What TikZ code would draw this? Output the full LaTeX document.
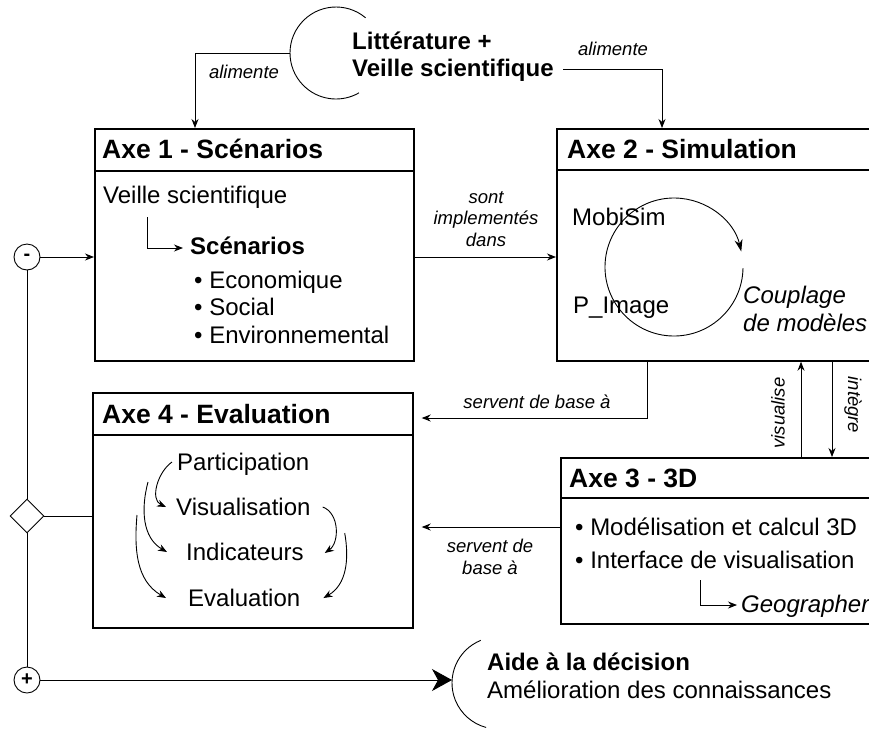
\documentclass[tikz,border=0pt]{standalone}
\usepackage{fontspec}
\setmainfont{Liberation Sans}
\usetikzlibrary{arrows.meta,shapes.geometric,calc}
\begin{document}
\begin{tikzpicture}[x=1pt,y=1pt,
  box/.style={draw,line width=1.7pt,anchor=north west,inner sep=0pt},
  hdr/.style={line width=1.7pt},
  conn/.style={line width=0.9pt},
  arr/.style={conn,-{Stealth[length=9pt,width=7pt]}},
  txt/.style={inner sep=0pt,anchor=base west,font=\fontsize{24}{27}\selectfont},
  btxt/.style={txt,font=\fontsize{24}{27}\selectfont\bfseries},
  itxt/.style={txt,font=\fontsize{24}{27}\selectfont\itshape},
  ttl/.style={inner sep=0pt,anchor=base west,font=\fontsize{26.5}{30}\selectfont\bfseries},
  lbl/.style={inner sep=0pt,font=\fontsize{18.5}{21.5}\selectfont\itshape,align=center},
  sign/.style={draw,circle,line width=0.9pt,minimum size=26pt,inner sep=0pt,font=\fontsize{20}{20}\selectfont\bfseries},
]
\useasboundingbox (0,0) rectangle (869,-729);
\clip (0,0) rectangle (869,-729);

% ---- boxes
\node[box,minimum width=319pt,minimum height=232pt] (ax1) at (94,-128) {};
\node[box,minimum width=340pt,minimum height=232pt] (ax2) at (556,-128) {};
\node[box,minimum width=340pt,minimum height=166pt] (ax3) at (560,-457) {};
\node[box,minimum width=320pt,minimum height=235pt] (ax4) at (92,-392) {};
\draw[hdr] ([yshift=-43pt]ax1.north west) -- ([yshift=-43pt]ax1.north east);
\draw[hdr] ([yshift=-42pt]ax2.north west) -- ([yshift=-42pt]ax2.north east);
\draw[hdr] ([yshift=-41pt]ax3.north west) -- ([yshift=-41pt]ax3.north east);
\draw[hdr] ([yshift=-43pt]ax4.north west) -- ([yshift=-43pt]ax4.north east);

\node[ttl] (t1) at (102,-158) {Axe 1 - Scénarios};
\node[ttl] (t2) at (567,-158) {Axe 2 - Simulation};
\node[ttl] (t3) at (569,-487) {Axe 3 - 3D};
\node[ttl] (t4) at (102,-423) {Axe 4 - Evaluation};

% ---- Axe 1 contents
\node[txt] (veille) at (103,-203) {Veille scientifique};
\node[btxt] (scen) at (190,-254) {Scénarios};
\node[txt] (eco) at (194,-288) {• Economique};
\node[txt] (soc) at (194,-315) {• Social};
\node[txt] (env) at (194,-343) {• Environnemental};
\draw[arr] ([xshift=44pt,yshift=-14pt]veille.base west) |- ([xshift=-7pt,yshift=6pt]scen.base west);

% ---- Axe 2 contents
\coordinate (cyc) at (674,-267);
\draw[conn,-{Stealth[length=12pt,width=8pt]}] ($(cyc)+(-1:69)$) arc[start angle=-1, end angle=-347, radius=69];
\node[txt] (mobi) at (572,-225) {MobiSim};
\node[txt] (pimg) at (573,-313) {P\_Image};
\node[itxt] (coup1) at (743,-303) {Couplage};
\node[itxt] (coup2) at (743,-331) {de modèles};

% ---- Axe 3 contents
\node[txt] (mod) at (575,-535) {• Modélisation et calcul 3D};
\node[txt] (intf) at (575,-568) {• Interface de visualisation};
\node[itxt] (geo) at (741,-612) {Geographer};
\draw[arr] ([xshift=125pt,yshift=-12pt]intf.base west) |- ([xshift=-4pt,yshift=7pt]geo.base west);

% ---- Axe 4 contents
\node[txt] (part) at (177,-470) {Participation};
\node[txt] (visu) at (176,-515) {Visualisation};
\node[txt] (indic) at (186,-560) {Indicateurs};
\node[txt] (evalu) at (188,-606) {Evaluation};
\draw[arr] ([xshift=-5pt,yshift=8pt]part.base west) to[out=215,in=155] ([xshift=-10pt,yshift=8pt]visu.base west);
\draw[arr] ([xshift=-29pt,yshift=-12pt]part.base west) to[out=255,in=150] ([xshift=-19pt,yshift=8pt]indic.base west);
\draw[arr] ([xshift=-39pt,yshift=0pt]visu.base west) to[out=265,in=150] ([xshift=-22pt,yshift=8pt]evalu.base west);
\draw[arr] ([xshift=12pt,yshift=8pt]visu.base east) to[out=-20,in=35] ([xshift=21pt,yshift=7pt]indic.base east);
\draw[arr] ([xshift=34pt,yshift=-18pt]visu.base east) to[out=-80,in=30] ([xshift=23pt,yshift=8pt]evalu.base east);

% ---- top source
\coordinate (litc) at (336,-53);
\draw[conn] ($(litc)+(50:46)$) arc[start angle=50, end angle=300, radius=46];
\node[inner sep=0pt,anchor=base west,font=\fontsize{24}{27}\selectfont\bfseries,align=left] (lit) at (352,-76) {Littérature +\\Veille scientifique};
\coordinate (litw) at (290,-53);
\coordinate (litr) at (563,-69);
\draw[arr] (litw) -| ([xshift=101pt]ax1.north west);
\draw[arr] (litr) -| ([xshift=106pt]ax2.north west);
\node[lbl,anchor=base] (al1) at (244,-78) {alimente};
\node[lbl,anchor=base] (al2) at (613,-55) {alimente};

% ---- Axe1 -> Axe2
\node[sign] (minus) at (27,-257) {-};
\draw[arr] (minus) -- (ax1.west |- minus);
\draw[arr] (ax1.east |- minus) -- (ax2.west |- minus);
\node[lbl] (impl) at (486,-219) {sont\\implementés\\dans};

% ---- Axe2 -> Axe4
\coordinate (a2out) at ([xshift=91pt]ax2.south west);
\draw[arr] (a2out) |- ($(ax4.north east)+(8,-26)$);
\node[lbl,anchor=base] (sb1) at (537,-408) {servent de base à};

% ---- Axe3 -> Axe4
\coordinate (a3out) at ([yshift=-70pt]ax3.north west);
\draw[arr] (a3out) -- ($(ax4.east |- a3out)+(8,0)$);
\node[lbl] (sb2) at (490,-557) {servent de\\base à};

% ---- Axe2 <-> Axe3
\coordinate (vx) at ([xshift=241pt]ax3.north west);
\draw[arr] (vx) -- (vx |- ax2.south);
\coordinate (ix) at ([xshift=276pt]ax2.south west);
\draw[arr] (ix) -- (ix |- ax3.north);
\node[lbl,rotate=90] (vis) at (778,-413) {visualise};
\node[lbl,rotate=-90] (integ) at (853,-405) {intègre};

% ---- left feedback
\node[draw,diamond,line width=0.9pt,minimum size=34pt,inner sep=0pt] (dia) at (27,-516) {};
\node[sign] (plus) at (27,-680) {+};
\draw[conn] (minus) -- (dia);
\draw[conn] (dia) -- (plus);
\draw[conn] (dia.east) -- (ax4.west |- dia);

% ---- bottom outcome
\coordinate (aidec) at (498,-683);
\draw[conn] ($(aidec)+(112:46)$) arc[start angle=112, end angle=255, radius=46];
\coordinate (aidew) at (452,-680);
\draw[conn,-{Stealth[length=20pt,width=22pt,inset=6pt]}] (plus) -- (aidew);
\node[btxt] (aide) at (487,-670) {Aide à la décision};
\node[txt] (amel) at (487,-698) {Amélioration des connaissances};
\end{tikzpicture}
\end{document}
